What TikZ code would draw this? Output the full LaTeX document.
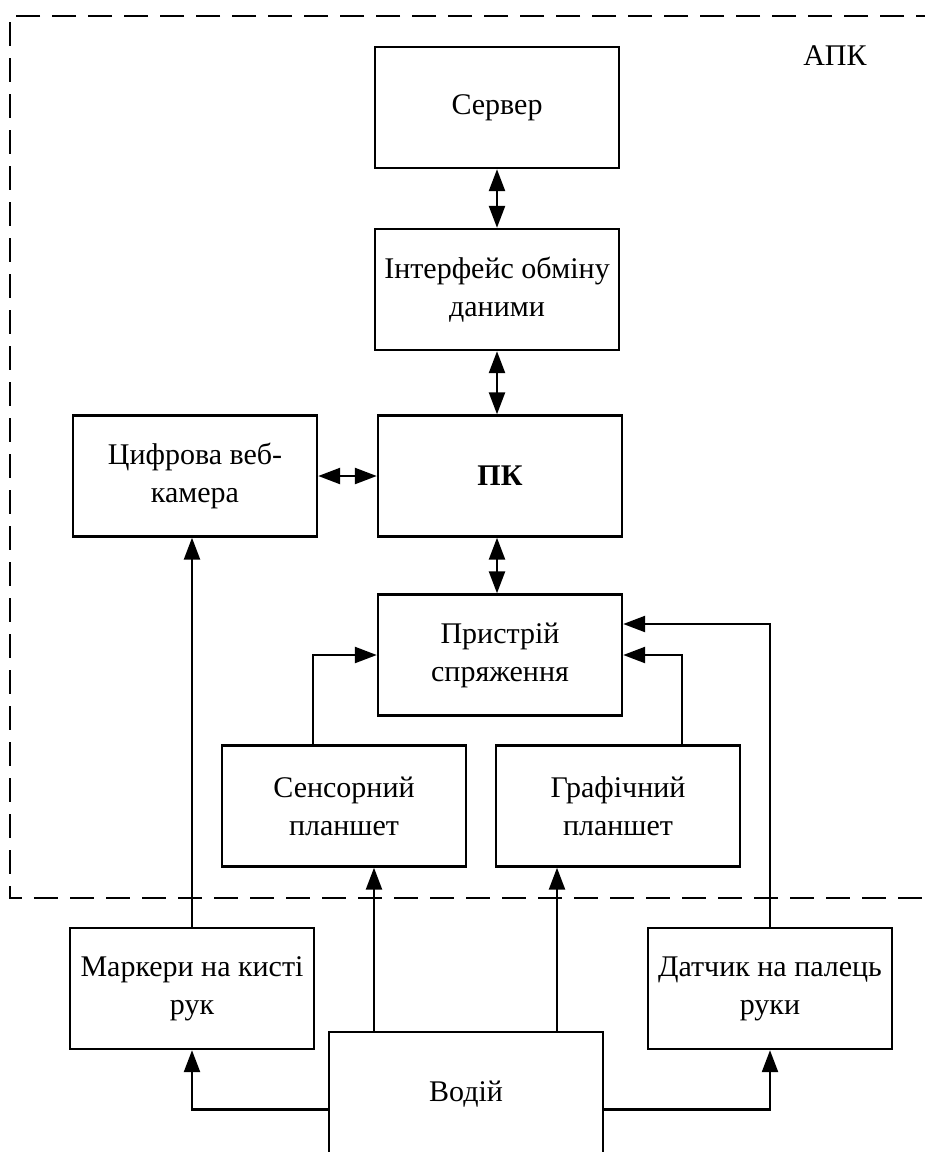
\documentclass[tikz,border=0pt]{standalone}
\usepackage{fontspec}
\setmainfont{Liberation Serif}
\usetikzlibrary{arrows.meta,calc}
\begin{document}
\begin{tikzpicture}[x=0.5pt,y=-0.5pt,
  blk/.style={draw,line width=1.2pt,minimum width=122pt,minimum height=60.5pt,inner sep=0pt,align=center,font=\fontsize{15}{19}\selectfont},
  arr/.style={line width=1.2pt,-{Triangle[length=11pt,width=8pt]}},
  biarr/.style={line width=1.2pt,{Triangle[length=11pt,width=8pt]}-{Triangle[length=11pt,width=8pt]}},
  frame/.style={line width=0.9pt,dash pattern=on 12pt off 6pt}]
\useasboundingbox (0,0) rectangle (925,1152);
\clip (0,0) rectangle (925,1152);
% dashed frame
\draw[frame] (940,16) -- (10,16) -- (10,898) -- (940,898);
\node[font=\fontsize{15}{18}\selectfont] (apk) at (835,56) {АПК};
% blocks
\node[blk] (srv)  at (497,107.5) {Сервер};
\node[blk] (intf) at (497,289.5) {Інтерфейс обміну\\даними};
\node[blk] (pk)   at (500,476) {\textbf{ПК}};
\node[blk] (cam)  at (195,476) {Цифрова веб-\\камера};
\node[blk] (pris) at (500,655) {Пристрій\\спряження};
\node[blk] (sens) at (344,806) {Сенсорний\\планшет};
\node[blk] (graf) at (618,806) {Графічний\\планшет};
\node[blk] (mark) at (192,988.5) {Маркери на кисті\\рук};
\node[blk] (dat)  at (770,988.5) {Датчик на палець\\руки};
\node[blk,minimum width=137pt,minimum height=61.5pt] (vod) at (466,1093.5) {};
\node[font=\fontsize{15}{18.5}\selectfont] (vodt) at (466,1094) {Водій};
% connectors
\draw[biarr] (srv.south) -- (intf.north);
\draw[biarr] (intf.south) -- (intf.south |- pk.north);
\draw[biarr] (cam.east) -- (pk.west);
\draw[biarr] (pk.south -| intf.south) -- (intf.south |- pris.north);
\draw[arr] ([xshift=-15.5pt]sens.north) |- (pris.west);
\draw[arr] ([xshift=32pt]graf.north) |- (pris.east);
\draw[arr] (dat.north) |- ([yshift=15.5pt]pris.east);
\draw[arr] (mark.north) -- (mark.north |- cam.south);
\draw[arr] ([xshift=-46pt]vod.north) -- ([xshift=-46pt]vod.north |- sens.south);
\draw[arr] ([xshift=45.5pt]vod.north) -- ([xshift=45.5pt]vod.north |- graf.south);
\draw[arr] ([yshift=-8pt]vod.west) -| (mark.south);
\draw[arr] ([yshift=-8pt]vod.east) -| (dat.south);
\end{tikzpicture}
\end{document}
